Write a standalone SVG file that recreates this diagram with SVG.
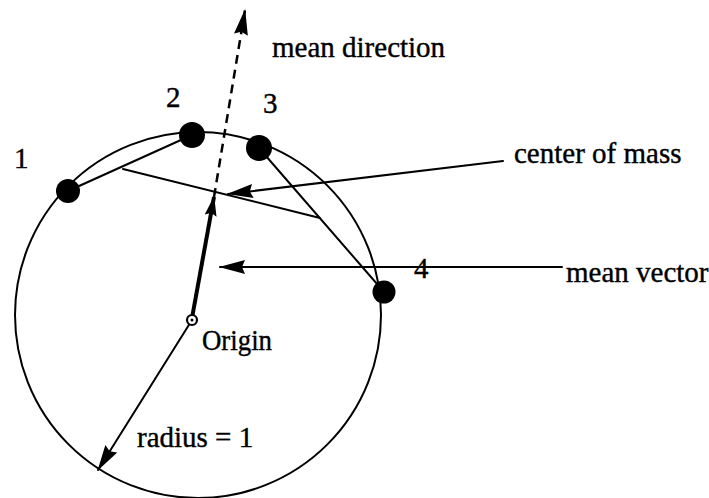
<svg xmlns="http://www.w3.org/2000/svg" width="709" height="498" viewBox="0 0 709 498">
<style>
.ln{fill:none;stroke:#000;stroke-width:2;stroke-linecap:round}
.dot{fill:#000}
text{font-family:"Liberation Serif","Times New Roman",serif;font-size:29px;fill:#000;stroke:#000;stroke-width:0.4}
</style>
<defs>
<marker id="ah" markerUnits="userSpaceOnUse" viewBox="0 0 26 14" markerWidth="26" markerHeight="14" refX="25" refY="7" orient="auto">
<path d="M0,0 L26,7 L0,14 L3,7 Z" fill="#000"/>
</marker>
<marker id="ahs" markerUnits="userSpaceOnUse" viewBox="0 0 20 12" markerWidth="20" markerHeight="12" refX="19" refY="6" orient="auto">
<path d="M0,0 L20,6 L0,12 L3,6 Z" fill="#000"/>
</marker>
</defs>
<rect width="709" height="498" fill="#fff"/>
<g id="circle">
<circle cx="198" cy="315" r="183" class="ln"/>
</g>
<g id="connectors">
<line class="ln" x1="68" y1="191" x2="192" y2="135"/>
<line class="ln" x1="259" y1="148" x2="384" y2="292"/>
<line class="ln" x1="123" y1="169" x2="320" y2="218"/>
<line x1="214" y1="197" x2="245" y2="10" stroke="#000" stroke-width="2.5" stroke-dasharray="9,6" marker-end="url(#ah)"/>
<line x1="192" y1="318" x2="214" y2="197" stroke="#000" stroke-width="4" marker-end="url(#ahs)"/>
<line class="ln" x1="503" y1="161" x2="228" y2="194" marker-end="url(#ah)"/>
<line class="ln" x1="562" y1="267" x2="220" y2="267" marker-end="url(#ah)"/>
<line class="ln" x1="192" y1="320" x2="98" y2="470" marker-end="url(#ah)"/>
</g>
<g id="p1"><circle class="dot" cx="68" cy="191" r="12"/><text x="14" y="168">1</text></g>
<g id="p2"><circle class="dot" cx="192" cy="135" r="13"/><text x="166" y="107">2</text></g>
<g id="p3"><circle class="dot" cx="259" cy="148" r="13"/><text x="263" y="113">3</text></g>
<g id="p4"><circle class="dot" cx="384" cy="292" r="11.5"/><text x="414" y="278">4</text></g>
<g id="origin">
<circle cx="192" cy="320" r="5" fill="#fff" stroke="#000" stroke-width="2.2"/>
<circle cx="192" cy="320" r="1.5" fill="#000"/>
<text x="202" y="350" textLength="70" lengthAdjust="spacingAndGlyphs">Origin</text>
</g>
<g id="labels">
<text x="272" y="57">mean direction</text>
<text x="514" y="163">center of mass</text>
<text x="566" y="282">mean vector</text>
<text x="137" y="447">radius = 1</text>
</g>
</svg>
